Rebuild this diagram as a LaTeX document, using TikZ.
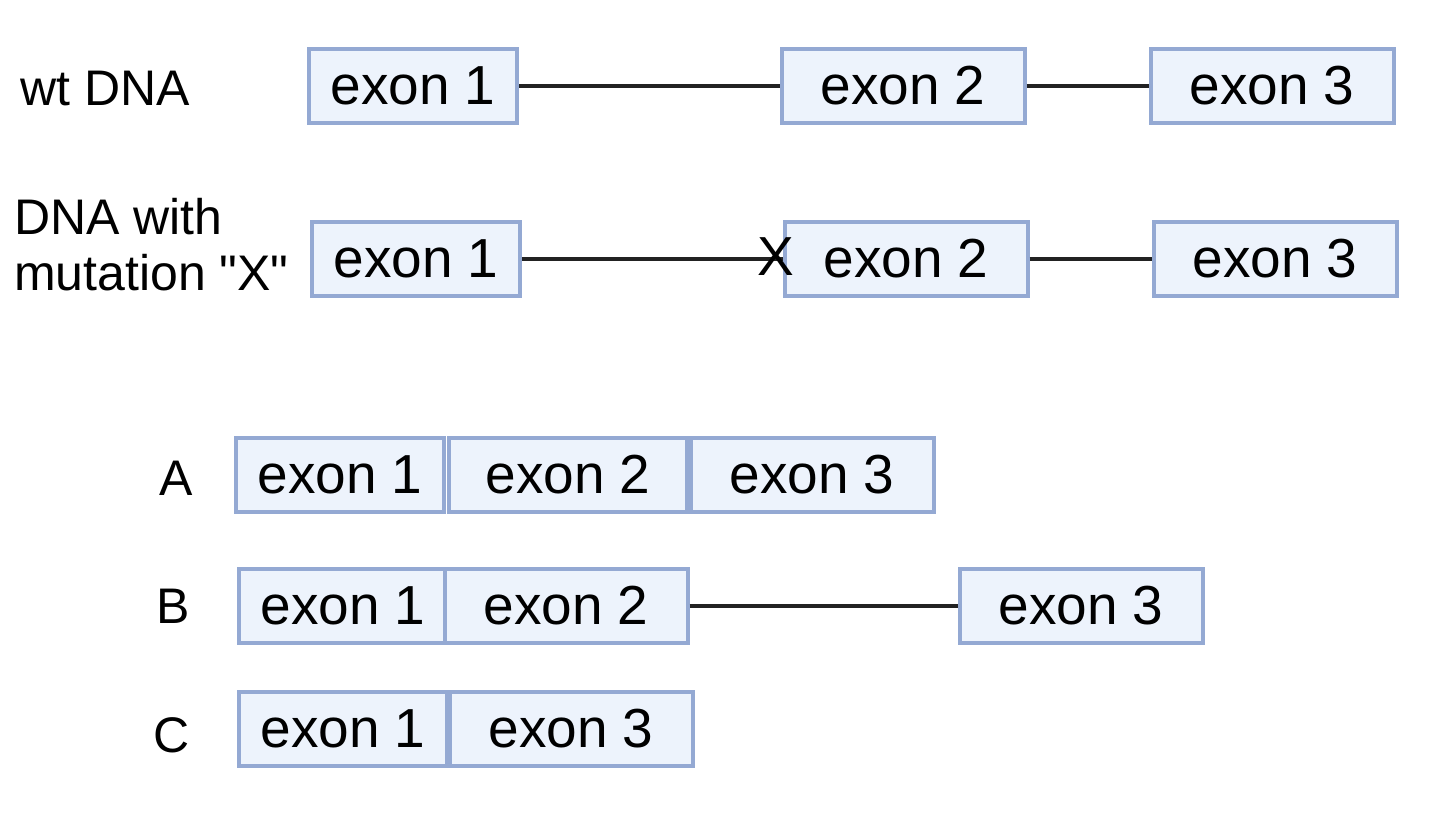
\documentclass[tikz,border=0pt]{standalone}
\usepackage{fontspec}
\setmainfont{Liberation Sans}[Ligatures=TeXOff]
\usepackage{tikz}
\usetikzlibrary{positioning}

\definecolor{exonfill}{HTML}{EDF3FC}
\definecolor{exonline}{HTML}{94A9D3}
\definecolor{introncol}{HTML}{222222}

\begin{document}
\begin{tikzpicture}[
  x=1pt, y=-1pt,
  exon/.style={draw=exonline, fill=exonfill, line width=4pt, inner sep=0pt,
    minimum width=243pt, minimum height=74pt, font=\fontsize{55}{60}\selectfont},
  exonshort/.style={exon, minimum width=208pt},
  lbl/.style={font=\fontsize{50}{56}\selectfont, inner sep=0pt, align=left},
  intron/.style={line width=3.5pt, color=introncol},
]
\useasboundingbox (0,0) rectangle (1435,814);

% wild type
\node[lbl, anchor=west] (wtlbl) at (20,88) {wt DNA};
\node[exonshort] (wa) at (413,86) {exon 1};
\node[exon] (wb) at (903,86) {exon 2};
\node[exon] (wc) at (1272,86) {exon 3};
\draw[intron] (wa) -- (wb);
\draw[intron] (wb) -- (wc);

% mutant
\node[lbl, anchor=west] (mulbl) at (14,245) {DNA with\\mutation "X"};
\node[exonshort] (ma) at (416,259) {exon 1};
\node[exon] (mb) at (906,259) {exon 2};
\node[exon] (mc) at (1275,259) {exon 3};
\draw[intron] (ma) -- (mb);
\draw[intron] (mb) -- (mc);
\node[font=\fontsize{55}{60}\selectfont, inner sep=0pt] (mx) at (776,257) {X};

% option A
\node[lbl] (alb) at (176,478) {A};
\node[exonshort] (aa) at (340,475) {exon 1};
\node[exon, minimum width=238pt] (ab) at (568,475) {exon 2};
\node[exon] (ac) at (812,475) {exon 3};

% option B
\node[lbl] (blb) at (173,606) {B};
\node[exonshort] (ba) at (343,606) {exon 1};
\node[exon] (bb) at (566,606) {exon 2};
\node[exon] (bc) at (1081,606) {exon 3};
\draw[intron] (bb) -- (bc);

% option C
\node[lbl] (clb) at (172,735) {C};
\node[exonshort] (ca) at (343,729) {exon 1};
\node[exon] (cc) at (571,729) {exon 3};
\end{tikzpicture}
\end{document}
